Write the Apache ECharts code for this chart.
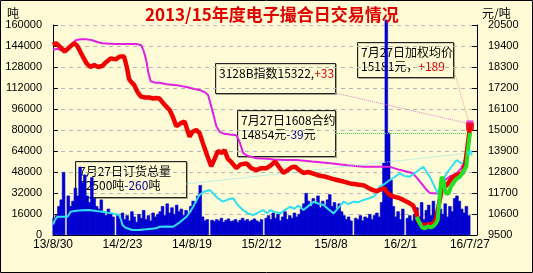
<!DOCTYPE html>
<html><head><meta charset="utf-8">
<script src="https://cdn.jsdelivr.net/npm/echarts@6/dist/echarts.min.js"></script>
<style>html,body{margin:0;padding:0;background:#FFFBD6}#c{width:533px;height:273px}</style>
</head><body><div id="c"></div>
<script>
// ---- data ----
const xTickLabels = ['13/8/30','14/2/23','14/8/19','15/2/12','15/8/8','16/2/1','16/7/27'];
const tickStepDays = 177;          // calendar days between x labels
const lastDay = 1062;              // 16/7/27 counted from 13/8/30
const leftTicks = {min:0, max:160000, step:16000};
const rightTicks = {min:9500, max:20500, step:1100};

// daily volume (吨), sampled every 6 calendar days from day 3; null = holiday gap
const volStartDay = 3, volStepDays = 6;
const volume = [
 13000,15000,22000,27000,48000,null,30000,22000,26000,36000,
 30000,52000,40000,46000,30000,25000,44000,28000,22000,20000,
 27000,18000,15000,20000,17000,14000,null,16000,13000,17000,
 12000,15000,11000,18000,14000,10000,16000,13000,19000,12000,
 15000,11000,17000,14000,16000,18000,22000,15000,24000,17000,
 21000,16000,23000,18000,20000,15000,19000,17000,22000,26000,
 24000,30000,38000,14000,11000,12000,null,11500,10500,12000,
 11000,13000,10000,11500,12500,10500,11000,12000,10000,11500,
 13000,11000,12000,10500,11500,12500,11000,10000,12000,null,
 13000,15000,12000,17000,13000,16000,11000,14000,18000,12000,
 15000,13000,17000,14000,16000,20000,24000,32000,26000,22000,
 28000,24000,30000,21000,26000,23000,27000,31000,22000,25000,
 20000,24000,18000,15000,12000,14000,11000,null,13000,12000,
 15000,11000,14000,13000,16000,12000,15000,17000,14000,25000,
 55000,164000,78000,42000,22000,14000,18000,12000,20000,null,
 13000,15000,11000,16000,21000,14000,25000,12000,19000,23000,
 15000,26000,18000,12000,20000,16000,24000,14000,22000,18000,
 28000,30000,26000,20000,17000,22000,15000
];

// 加权均价 (元/吨) [day, value]
const weightedPrice = [[0,19450],[8,19550],[18,19350],[30,19100],[40,19300],[54,19550],[62,19400],[72,19000],[85,18500],[95,18300],[105,18400],[115,18300],[125,18350],[135,18550],[147,18750],[160,18700],[170,18850],[181,18850],[188,18300],[194,17650],[200,17500],[207,17350],[215,17000],[224,16750],[235,16700],[245,16700],[255,16650],[263,16680],[271,16650],[285,16300],[297,16050],[305,15700],[314,15200],[325,15350],[335,15450],[340,15400],[348,14650],[355,14900],[365,15000],[373,14850],[382,14300],[392,13700],[403,13100],[412,13500],[420,13900],[430,13800],[437,13950],[445,13500],[455,13300],[467,13000],[478,13200],[493,13250],[505,13000],[518,12900],[530,13000],[544,13000],[555,13150],[566,13350],[576,13050],[587,12750],[598,12900],[608,13050],[617,13080],[627,12900],[638,12750],[650,12800],[665,12700],[680,12600],[695,12550],[710,12450],[723,12380],[740,12300],[757,12200],[775,12150],[791,12100],[805,11950],[815,11850],[825,11800],[832,11860],[845,11950],[850,11750],[858,11600],[870,11500],[880,11450],[891,11350],[905,11200],[917,11050],[925,10700],[929,10300],[935,10100],[942,10000],[955,10050],[968,10100],[975,10300],[982,11000],[990,11850],[998,12000],[1006,12200],[1013,12400],[1019,12550],[1030,12650],[1044,12750],[1050,13200],[1055,14000],[1060,14800],[1062,15181]];

// 3128B指数 (元/吨)
const index3128B = [[0,19200],[10,19250],[25,19150],[32,19100],[45,19400],[58,19700],[70,19750],[83,19760],[100,19700],[115,19600],[125,19540],[145,19520],[160,19500],[185,19510],[211,19500],[224,19450],[230,19200],[237,18700],[243,18000],[249,17550],[260,17480],[271,17470],[290,17400],[314,17350],[340,17250],[360,17150],[373,17100],[385,17000],[395,16830],[403,16250],[410,15700],[416,15200],[425,14900],[433,14820],[450,14760],[467,14730],[475,14400],[484,13800],[495,13650],[518,13520],[544,13500],[562,13450],[590,13430],[620,13430],[660,13350],[706,13260],[750,13150],[791,13080],[830,13080],[858,13070],[885,12900],[917,12730],[935,12300],[950,11900],[960,11700],[980,11680],[990,12000],[998,12380],[1010,12550],[1028,12730],[1040,13000],[1049,13430],[1055,14200],[1062,15322]];

// 订货总量 (吨)
const orderTotal = [[0,8000],[5,11400],[11,13900],[25,14000],[37,13900],[45,17700],[60,18500],[75,18800],[92,19000],[110,18200],[125,17700],[140,17000],[151,16500],[160,15800],[168,15200],[173,12000],[177,7600],[185,5500],[202,3800],[220,3900],[237,4300],[250,4700],[263,5100],[271,6300],[290,6400],[306,6300],[320,9000],[330,11500],[340,13900],[350,18000],[357,21500],[365,26000],[373,30500],[385,33000],[399,34300],[410,31000],[420,28000],[433,25400],[445,27000],[459,28000],[470,23000],[484,19000],[497,16500],[510,15200],[522,17000],[535,19000],[545,16500],[553,19000],[565,17500],[579,16500],[590,19000],[604,21500],[615,20000],[625,22500],[638,19000],[650,22000],[664,25400],[675,24000],[689,22800],[700,20000],[715,16500],[728,21000],[740,25400],[752,23500],[766,25400],[778,25000],[791,26700],[805,28000],[817,29200],[825,32000],[832,36800],[845,39000],[858,41900],[870,44000],[883,47000],[895,45000],[909,44400],[925,48000],[943,52000],[952,48000],[960,44400],[970,38000],[980,31800],[990,40000],[1003,47000],[1015,52000],[1028,57100],[1038,55000],[1049,54600],[1055,60000],[1058,66000],[1062,62500]];

// 1608合约 (元/吨)
const contract1608 = [[926,10450],[932,10200],[940,9900],[947,9850],[955,9950],[962,9900],[968,9950],[975,10100],[980,10300],[985,11500],[990,12550],[995,12300],[1000,11700],[1007,11650],[1013,12000],[1019,12200],[1028,12450],[1036,12550],[1045,12800],[1053,13100],[1057,14000],[1062,14854]];

// ---- chart ----
const FONT = '"Noto Sans CJK SC"';
const AXF = '"Liberation Sans"';
const base = rightTicks.min;
const toRight = arr => arr.map(p => [p[0], p[1] - base]);
const last = arr => arr[arr.length - 1];

const volData = [];
volume.forEach((v, i) => { if (v != null) volData.push([volStartDay + i * volStepDays, v]); });

const redR = toRight(weightedPrice), magR = toRight(index3128B), greenR = toRight(contract1608);

const RICH = {
  k:{fill:'#000', fontSize:12, fontFamily:FONT, lineHeight:14},
  r:{fill:'#E00000', fontSize:12, fontFamily:FONT, lineHeight:14},
  b:{fill:'#000090', fontSize:12, fontFamily:FONT, lineHeight:14}
};
function box(x, y, w, h, text) {
  return {type:'group', z:100, children:[
    {type:'rect', shape:{x:x+1.5, y:y+1.5, width:w, height:h}, style:{fill:'none', stroke:'rgba(0,0,0,0.35)', lineWidth:1}},
    {type:'rect', shape:{x:x+0.5, y:y+0.5, width:w, height:h}, style:{fill:'rgba(255,251,214,0.55)', stroke:'#222', lineWidth:1}},
    {type:'text', x:x+4, y:y+3, style:{text:text, rich:RICH, fill:'#000', fontSize:12, fontFamily:FONT, lineHeight:14}}
  ]};
}
function leader(color, from, toCoord) {
  return {silent:true, symbol:['none','none'], animation:false, label:{show:false},
    lineStyle:{type:'dotted', color:color, width:1}, emphasis:{disabled:true},
    data:[[from, {coord:toCoord}]]};
}

const chart = echarts.init(document.getElementById('c'), null, {renderer:'canvas'});
chart.setOption({
  animation:false,
  backgroundColor:'#FFFBD6',
  title:{text:'2013/15年度电子撮合日交易情况', left:145, top:6, padding:0,
    textStyle:{color:'#E00000', fontSize:17, fontWeight:'bold', fontFamily:FONT}},
  grid:{left:53, right:56, top:25, bottom:38},
  xAxis:{type:'value', min:0, max:1080, interval:tickStepDays,
    axisLine:{lineStyle:{color:'#000', width:1}}, axisTick:{show:false}, splitLine:{show:false},
    axisLabel:{color:'#000', fontSize:12, fontFamily:AXF, margin:4, showMaxLabel:false,
      formatter:v => { const i = Math.round(v / tickStepDays); return (Math.abs(v - i*tickStepDays) < 0.5 && xTickLabels[i]) ? xTickLabels[i] : ''; }}},
  yAxis:[
    {type:'value', min:leftTicks.min, max:leftTicks.max, interval:leftTicks.step, position:'left',
      axisLine:{show:true, lineStyle:{color:'#000'}}, axisTick:{show:true, inside:true, length:5, lineStyle:{color:'#000'}},
      axisLabel:{color:'#000', fontSize:11, fontFamily:AXF, margin:11, formatter:v => String(v)},
      splitLine:{show:true, lineStyle:{color:'#B4B4B4', type:[4,4], width:1}}},
    {type:'value', min:0, max:rightTicks.max - base, interval:rightTicks.step, position:'right',
      axisLine:{show:true, lineStyle:{color:'#000'}}, axisTick:{show:true, inside:true, length:5, lineStyle:{color:'#000'}},
      axisLabel:{color:'#000', fontSize:11, fontFamily:AXF, margin:11, formatter:v => String(v + base)},
      splitLine:{show:false}}
  ],
  series:[
    {type:'bar', name:'成交量', yAxisIndex:0, data:volData, barCategoryGap:'-40%', clip:false,
      itemStyle:{color:'#0000D0', borderColor:'#0000D0', borderWidth:0.6}, z:1},
    {type:'line', name:'3128B指数', yAxisIndex:1, data:magR, showSymbol:false, symbol:'none',
      lineStyle:{color:'#E020E0', width:2}, z:3,
      markLine:leader('#E080C8', {x:335, y:93}, last(magR))},
    {type:'line', name:'订货总量', yAxisIndex:0, data:orderTotal, showSymbol:false, symbol:'none',
      lineStyle:{color:'#30E0F0', width:2}, z:4,
      markLine:leader('#80E8F0', {x:186, y:184}, last(orderTotal))},
    {type:'line', name:'加权均价', yAxisIndex:1, data:redR, showSymbol:false, symbol:'none',
      lineStyle:{color:'#F00000', width:4.5}, z:5,
      markLine:leader('#E8A070', {x:453, y:67}, last(redR))},
    {type:'line', name:'1608合约', yAxisIndex:1, data:greenR, showSymbol:false, symbol:'none',
      lineStyle:{color:'#22E022', width:4}, z:6,
      markLine:leader('#40D040', {x:335, y:133}, last(greenR))},
    {type:'scatter', yAxisIndex:0, data:[last(orderTotal)], symbol:'rect', symbolSize:5, itemStyle:{color:'#30E0F0'}, z:7, silent:true},
    {type:'scatter', yAxisIndex:1, data:[last(magR)], symbol:'rect', symbolSize:7, itemStyle:{color:'#E020E0'}, z:7, silent:true},
    {type:'scatter', yAxisIndex:1, data:[last(redR)], symbol:'rect', symbolSize:8, itemStyle:{color:'#F00000'}, z:8, silent:true}
  ],
  graphic:[
    {type:'rect', z:200, silent:true, shape:{x:0.5, y:0.5, width:532, height:272}, style:{fill:'none', stroke:'#000', lineWidth:1}},
    {type:'text', x:7, y:7, style:{text:'吨', fill:'#000', fontSize:12, fontFamily:FONT}},
    {type:'text', x:482, y:7, style:{text:'元/吨', fill:'#000', fontSize:12, fontFamily:FONT}},
    box(215, 63, 120, 30, '{k|3128B指数15322,}{r|+33}'),
    box(357, 42, 96, 35, '{k|7月27日加权均价}\n{k|15181元，}{r|+189}'),
    box(237, 110, 98, 46, '{k|7月27日1608合约}\n{k|14854元}{b|-39}{k|元}'),
    box(75, 161, 111, 36, '{k|7月27日订货总量}\n{k|62500吨}{b|-260}{k|吨}')
  ]
});
</script>
</body></html>
